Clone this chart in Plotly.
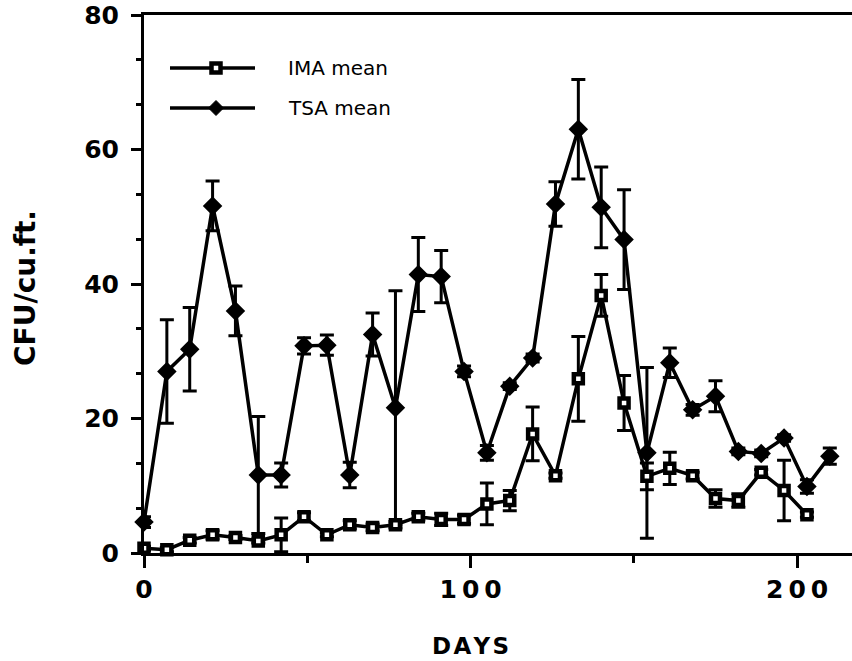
import plotly.graph_objects as go

# Sampling days (weekly)
days_ima = [0, 7, 14, 21, 28, 35, 42, 49, 56, 63, 70, 77, 84, 91, 98, 105, 112,
            119, 126, 133, 140, 147, 154, 161, 168, 175, 182, 189, 196, 203]
days_tsa = [0, 7, 14, 21, 28, 35, 42, 49, 56, 63, 70, 77, 84, 91, 98, 105, 112,
            119, 126, 133, 140, 147, 154, 161, 168, 175, 182, 189, 196, 203, 210]

# IMA mean CFU/cu.ft. and error
ima_mean = [0.7, 0.5, 1.9, 2.7, 2.3, 1.8, 2.7, 5.4, 2.7, 4.2, 3.8, 4.2, 5.4, 5.0, 5.0,
            7.3, 7.8, 17.7, 11.5, 25.9, 38.3, 22.3, 11.4, 12.6, 11.5, 8.1, 7.8, 12.0,
            9.3, 5.7]
ima_err = [0.3, 0.3, 0.4, 0.6, 0.3, 0.3, 2.5, 0.6, 0.3, 0.6, 0.5, 0.5, 0.5, 0.9, 0.6,
           3.1, 1.5, 4.0, 0.4, 6.3, 3.1, 4.1, 2.0, 2.4, 0.5, 1.3, 1.0, 0.4, 4.5, 0.4]

# TSA mean CFU/cu.ft. and error
tsa_mean = [4.6, 27.0, 30.3, 51.6, 36.0, 11.6, 11.6, 30.8, 30.9, 11.6, 32.5, 21.6,
            41.4, 41.1, 27.0, 14.9, 24.8, 29.0, 51.9, 63.0, 51.4, 46.6, 14.9, 28.3,
            21.3, 23.3, 15.1, 14.8, 17.1, 9.9, 14.4]
tsa_err = [0.8, 7.7, 6.2, 3.7, 3.7, 8.7, 1.8, 1.2, 1.5, 1.9, 3.2, 17.4, 5.5, 3.9, 0.8,
           1.1, 0.5, 0.6, 3.3, 7.4, 6.0, 7.4, 12.7, 2.2, 0.8, 2.3, 0.5, 0.5, 0.5, 1.0,
           1.2]

x_ticks = [0, 100, 200]
x_tick_text = ["0", "1\u20090\u20090", "2\u20090\u20090"]
y_ticks = [0, 20, 40, 60, 80]

FONT = "DejaVu Sans"
INK = "black"

fig = go.Figure()

fig.add_trace(go.Scatter(
    x=days_tsa, y=tsa_mean, mode="lines+markers", name="TSA mean",
    line=dict(color=INK, width=3.5),
    marker=dict(symbol="diamond", size=15, color=INK),
    error_y=dict(type="data", array=tsa_err, visible=True, color=INK,
                 thickness=3, width=7),
    cliponaxis=False, showlegend=False,
))
fig.add_trace(go.Scatter(
    x=days_ima, y=ima_mean, mode="lines+markers", name="IMA mean",
    line=dict(color=INK, width=3.5),
    marker=dict(symbol="square", size=9, color="white",
                line=dict(color=INK, width=4.5)),
    error_y=dict(type="data", array=ima_err, visible=True, color=INK,
                 thickness=3, width=7),
    cliponaxis=False, showlegend=False,
))

# Hand-drawn legend in the upper-left corner
L_PX, T_PX, W_PX, H_PX = 144, 15, 708, 538


def px_x(p):
    return (p - L_PX) / W_PX


def px_y(p):
    return (T_PX + H_PX - p) / H_PX


shapes = []
for row_y in (68, 108):
    shapes.append(dict(type="line", xref="paper", yref="paper",
                       x0=px_x(170), x1=px_x(255), y0=px_y(row_y), y1=px_y(row_y),
                       line=dict(color=INK, width=3.5)))
# square key
shapes.append(dict(type="rect", xref="paper", yref="paper",
                   xsizemode="pixel", ysizemode="pixel",
                   xanchor=px_x(216), yanchor=px_y(68),
                   x0=-4.5, x1=4.5, y0=-4.5, y1=4.5,
                   fillcolor="white", line=dict(color=INK, width=4.5)))
# diamond key
shapes.append(dict(type="path", xref="paper", yref="paper",
                   xsizemode="pixel", ysizemode="pixel",
                   xanchor=px_x(216), yanchor=px_y(108),
                   path="M -7.5 0 L 0 7.5 L 7.5 0 L 0 -7.5 Z",
                   fillcolor=INK, line=dict(color=INK, width=1)))

annotations = [
    dict(text="IMA mean", xref="paper", yref="paper", x=px_x(286), y=px_y(68),
         xanchor="left", yanchor="middle", showarrow=False,
         font=dict(family=FONT, size=20, color=INK)),
    dict(text="TSA mean", xref="paper", yref="paper", x=px_x(286), y=px_y(108),
         xanchor="left", yanchor="middle", showarrow=False,
         font=dict(family=FONT, size=20, color=INK)),
    dict(text="D\u200aA\u200aY\u200aS", xref="x", yref="paper", x=100, y=px_y(646),
         xanchor="center", yanchor="middle", showarrow=False,
         font=dict(family=FONT, size=23, color=INK, weight="bold")),
    dict(text="CFU/cu.ft.", xref="paper", yref="paper", x=px_x(25), y=px_y(288),
         xanchor="center", yanchor="middle", showarrow=False, textangle=-90,
         font=dict(family=FONT, size=28, color=INK, weight="bold")),
]

fig.update_layout(
    width=852, height=661,
    margin=dict(l=144, r=0, t=15, b=108),
    plot_bgcolor="white", paper_bgcolor="white",
    shapes=shapes, annotations=annotations,
    xaxis=dict(
        range=[0, 216.8], showgrid=False, zeroline=False,
        showline=True, linecolor=INK, linewidth=3, mirror=True,
        ticks="outside", ticklen=12, tickwidth=3, tickcolor=INK,
        tickvals=x_ticks, ticktext=x_tick_text, ticklabelstandoff=0,
        tickfont=dict(family=FONT, size=25, color=INK, weight="bold"),
        minor=dict(tickvals=[50, 150], ticks="outside", ticklen=7,
                   tickwidth=3, tickcolor=INK, showgrid=False),
    ),
    yaxis=dict(
        range=[0, 80], showgrid=False, zeroline=False,
        showline=True, linecolor=INK, linewidth=3,
        ticks="outside", ticklen=10, tickwidth=3, tickcolor=INK,
        tickvals=y_ticks, ticklabelstandoff=7,
        tickfont=dict(family=FONT, size=25, color=INK, weight="bold"),
        minor=dict(dtick=20 / 3, tick0=0, ticks="outside", ticklen=5,
                   tickwidth=3, tickcolor=INK, showgrid=False),
    ),
)

fig.write_html("out.html")
